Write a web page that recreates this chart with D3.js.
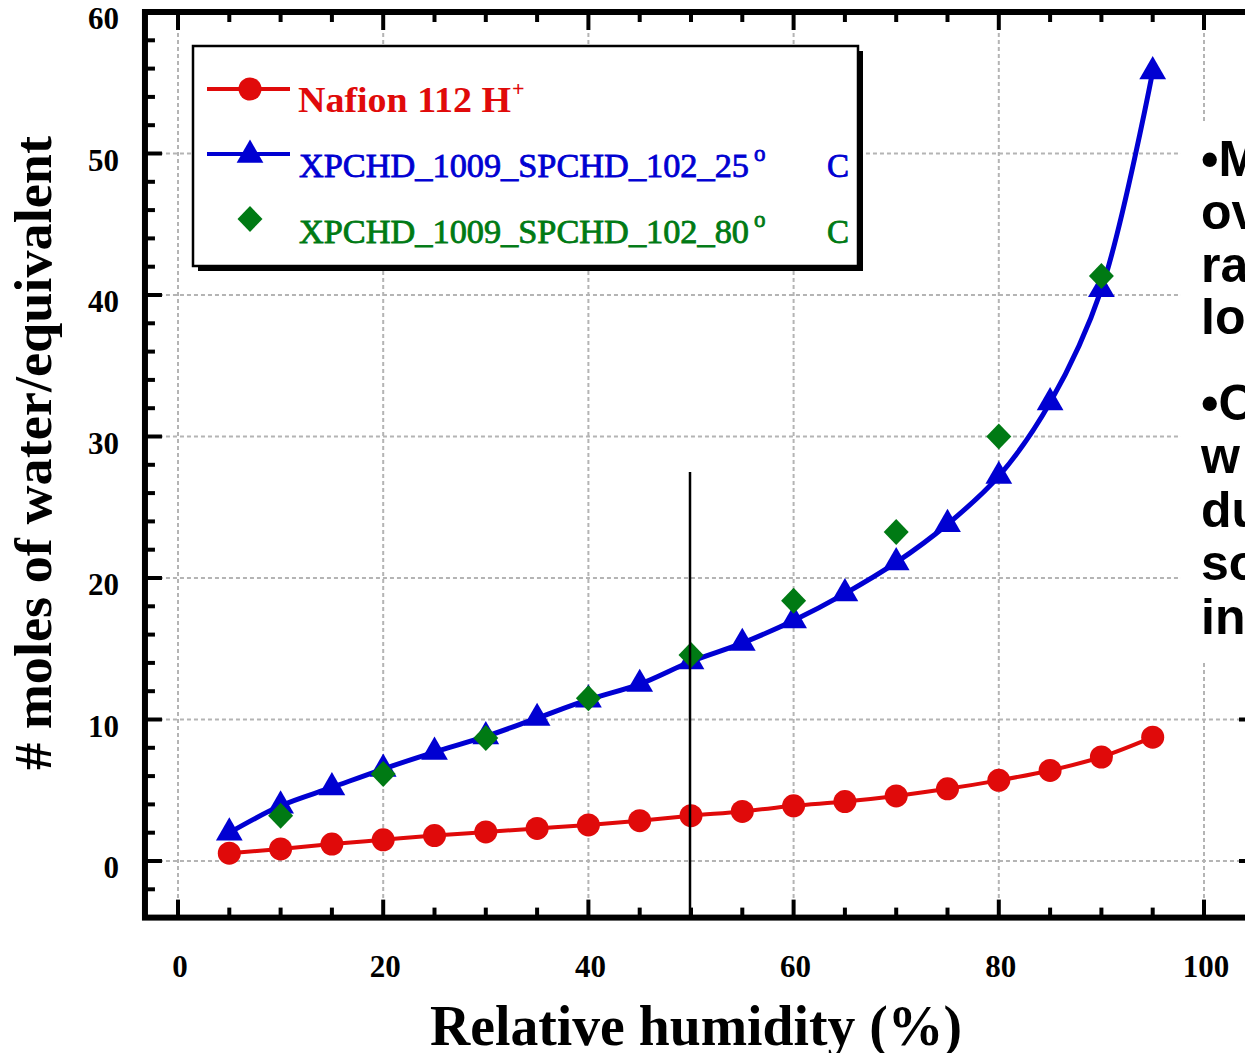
<!DOCTYPE html>
<html><head><meta charset="utf-8">
<script src="https://cdn.jsdelivr.net/npm/d3@7/dist/d3.min.js"></script>
<style>body{margin:0;background:#fff;overflow:hidden}svg{display:block}</style>
</head><body>
<svg id="c" width="1245" height="1053"></svg>
<script>
// ---- data ----
const rh = [5,10,15,20,25,30,35,40,45,50,55,60,65,70,75,80,85,90,95];
const nafion = [0.55,0.85,1.2,1.5,1.8,2.05,2.3,2.55,2.85,3.2,3.5,3.9,4.2,4.6,5.1,5.7,6.4,7.35,8.75];
const xp25 = [2.0,3.9,5.2,6.5,7.7,8.8,10.1,11.4,12.5,14.1,15.4,17.0,18.9,21.1,23.8,27.2,32.4,40.4,55.8];
const rh80 = [10,20,30,40,50,60,70,80,90];
const xp80 = [3.2,6.15,8.7,11.5,14.55,18.4,23.25,30.0,41.35];
const xTicks = [0,20,40,60,80,100];
const yTicks = [0,10,20,30,40,50,60];
const legendLabels = ["Nafion 112 H", "XPCHD_1009_SPCHD_102_25", "XPCHD_1009_SPCHD_102_80"];
const sideLines = ["\u2022M","ov","ra","lo","\u2022C","w","du","so","in"];
const markerLineX = 50, markerLineTop = 27.5;

const RED="#e00a0a", BLUE="#0000d2", GREEN="#007a14";
const svg = d3.select("#c");
const x = d3.scaleLinear().domain([0,100]).range([178,1204]);
const y = d3.scaleLinear().domain([0,60]).range([861,12]);
const X0 = x(-3.22), X1 = 1256, Y0 = y(-4), Y1 = y(60);

// grid
const g = svg.append("g");
g.selectAll(".gx").data(xTicks).join("line")
  .attr("x1",d=>x(d)).attr("x2",d=>x(d)).attr("y1",Y1).attr("y2",Y0)
  .attr("stroke","#b4b4b4").attr("stroke-width",2).attr("stroke-dasharray","4,3");
g.selectAll(".gy").data(yTicks.filter(d=>d<60)).join("line")
  .attr("x1",X0).attr("x2",X1).attr("y1",d=>y(d)).attr("y2",d=>y(d))
  .attr("stroke","#b4b4b4").attr("stroke-width",2).attr("stroke-dasharray","4,3");

// axes with ticks (inward)
const ax = svg.append("g").attr("stroke","#000");
const xMinor = d3.range(0,101,5), yMinor = d3.range(-4,61,2);
xMinor.forEach(v=>{
  const L = v%20===0?18:10;
  ax.append("line").attr("x1",x(v)).attr("x2",x(v)).attr("y1",Y0).attr("y2",Y0-L).attr("stroke-width",4);
  ax.append("line").attr("x1",x(v)).attr("x2",x(v)).attr("y1",Y1).attr("y2",Y1+L).attr("stroke-width",4);
});
yMinor.forEach(v=>{
  const L = v%10===0?17:10;
  ax.append("line").attr("x1",X0).attr("x2",X0+L).attr("y1",y(v)).attr("y2",y(v)).attr("stroke-width",4);
  ax.append("line").attr("x1",X1).attr("x2",X1-L).attr("y1",y(v)).attr("y2",y(v)).attr("stroke-width",4);
});
ax.append("rect").attr("x",X0).attr("y",Y1).attr("width",X1-X0).attr("height",Y0-Y1)
  .attr("fill","none").attr("stroke-width",6);

// tick labels
const serif = "'Liberation Serif','Times New Roman',serif";
const tl = svg.append("g").attr("font-family",serif)
  .attr("font-weight","bold").attr("font-size",31).attr("fill","#000");
tl.selectAll(".xl").data(xTicks).join("text").attr("x",d=>x(d)+2).attr("y",977)
  .attr("text-anchor","middle").text(d=>d);
tl.selectAll(".yl").data(yTicks).join("text").attr("x",119).attr("y",d=>y(d)+17)
  .attr("text-anchor","end").text(d=>d);

// axis titles
svg.append("text").attr("x",430).attr("y",1045)
  .attr("font-family",serif).attr("font-weight","bold").attr("font-size",56)
  .attr("textLength",532).attr("lengthAdjust","spacingAndGlyphs").text("Relative humidity (%)");
svg.append("text").attr("transform","translate(51,770) rotate(-90)")
  .attr("font-family",serif).attr("font-weight","bold").attr("font-size",53)
  .attr("textLength",634).attr("lengthAdjust","spacingAndGlyphs").text("# moles of water/equivalent");

// series
const line = d3.line().x(d=>x(d[0])).y(d=>y(d[1])).curve(d3.curveCatmullRom.alpha(0.5));
const redPts = rh.map((r,i)=>[r,nafion[i]]);
const bluePts = rh.map((r,i)=>[r,xp25[i]]);
const greenPts = rh80.map((r,i)=>[r,xp80[i]]);
svg.append("path").attr("d",line(redPts)).attr("fill","none").attr("stroke",RED).attr("stroke-width",4);
svg.selectAll(".rc").data(redPts).join("circle").attr("cx",d=>x(d[0])).attr("cy",d=>y(d[1])).attr("r",11.5).attr("fill",RED);
svg.append("path").attr("d",line(bluePts)).attr("fill","none").attr("stroke",BLUE).attr("stroke-width",5);
const tri = d3.symbol().type(d3.symbolTriangle).size(310);
svg.selectAll(".bt").data(bluePts).join("path").attr("d",tri)
  .attr("transform",d=>`translate(${x(d[0])},${y(d[1])})`).attr("fill",BLUE);
const dia = (cx,cy,r)=>`M${cx},${cy-r-0.5}L${cx+r},${cy}L${cx},${cy+r+0.5}L${cx-r},${cy}Z`;
svg.selectAll(".gd").data(greenPts).join("path").attr("d",d=>dia(x(d[0]),y(d[1]),12.5)).attr("fill",GREEN);

// vertical marker line
svg.append("line").attr("x1",x(markerLineX)-1).attr("x2",x(markerLineX)-1)
  .attr("y1",y(markerLineTop)).attr("y2",Y0).attr("stroke","#000").attr("stroke-width",2.5);

// legend
const lg = svg.append("g");
lg.append("rect").attr("x",198).attr("y",51).attr("width",665).attr("height",220).attr("fill","#000");
lg.append("rect").attr("x",193).attr("y",46).attr("width",665).attr("height",220).attr("fill","#fff")
  .attr("stroke","#000").attr("stroke-width",2.5);
const ly = [89,154,219], cols=[RED,BLUE,GREEN];
lg.append("line").attr("x1",207).attr("x2",290).attr("y1",ly[0]).attr("y2",ly[0]).attr("stroke",RED).attr("stroke-width",4);
lg.append("circle").attr("cx",250).attr("cy",ly[0]).attr("r",11.5).attr("fill",RED);
lg.append("line").attr("x1",207).attr("x2",290).attr("y1",ly[1]).attr("y2",ly[1]).attr("stroke",BLUE).attr("stroke-width",4);
lg.append("path").attr("d",tri).attr("transform",`translate(250,${ly[1]+1})`).attr("fill",BLUE);
lg.append("path").attr("d",dia(250,ly[2],12.5)).attr("fill",GREEN);
const t0 = lg.append("text").attr("x",298).attr("y",112).attr("font-family",serif).attr("font-weight","bold")
  .attr("font-size",36).attr("fill",RED);
t0.append("tspan").attr("textLength",213).attr("lengthAdjust","spacingAndGlyphs").text(legendLabels[0]);
t0.append("tspan").attr("x",512).attr("dy",-16).attr("font-size",22).text("+");
const baseL = [null,177,243];
[1,2].forEach(i=>{
  const t = lg.append("text").attr("y",baseL[i]).attr("font-family",serif)
    .attr("font-size",33).attr("fill",cols[i]).attr("stroke",cols[i]).attr("stroke-width",0.8);
  t.append("tspan").attr("x",299).attr("textLength",450).attr("lengthAdjust","spacingAndGlyphs").text(legendLabels[i]);
  t.append("tspan").attr("x",754).attr("dy",-16).attr("font-size",23).text("o");
  t.append("tspan").attr("x",827).attr("dy",16).text("C");
});

// right side text block (clipped by viewport)
svg.append("rect").attr("x",1181).attr("y",123).attr("width",80).attr("height",537).attr("fill","#fff");
const by = [176,229,282,334,420,473,527,580,634];
svg.selectAll(".st").data(sideLines).join("text").attr("x",1201).attr("y",(d,i)=>by[i])
  .attr("font-family","'Liberation Sans',Arial,sans-serif").attr("font-weight","bold")
  .attr("font-size",50).attr("fill","#000").text(d=>d);
</script>
</body></html>
